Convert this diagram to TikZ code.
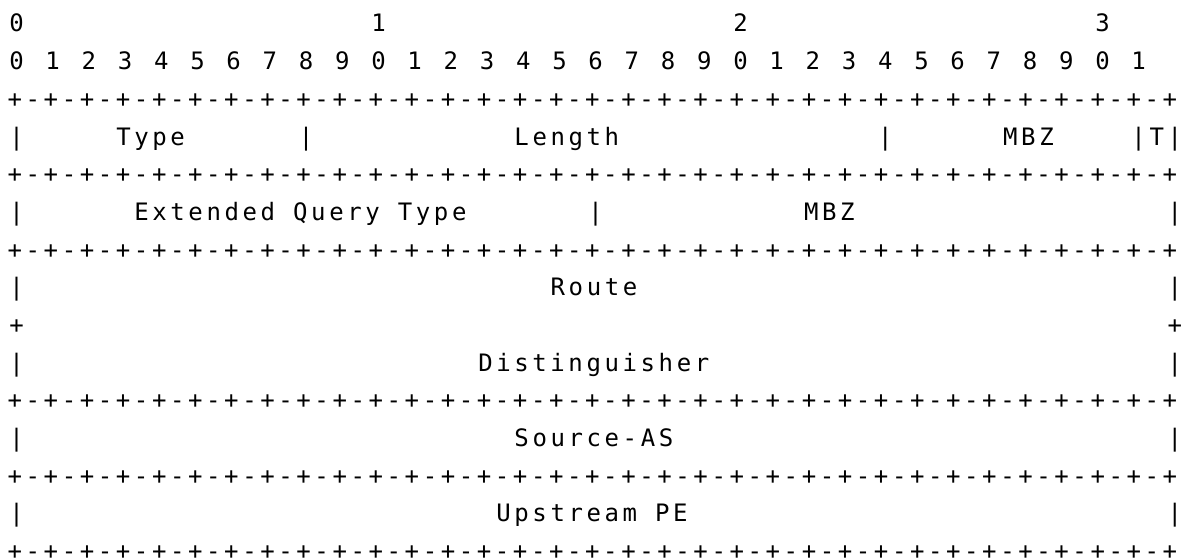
\documentclass[tikz,border=0pt]{standalone}
\usepackage{fontspec}
\newfontfamily\pktfont{DejaVu Sans Mono}[LetterSpace=15]
\newcommand{\pktrule}{+-+-+-+-+-+-+-+-+-+-+-+-+-+-+-+-+-+-+-+-+-+-+-+-+-+-+-+-+-+-+-+-+}
\begin{document}
\begin{tikzpicture}[x=18.1pt, y=-37.67pt,
  ch/.style={inner sep=0pt, anchor=base, font=\pktfont\fontsize{24}{28}\selectfont},
  lbl/.style={ch, anchor=base west}]
  \useasboundingbox (-16.5pt,32pt) rectangle (1171.5pt,-527pt);

  % bit numbers
  \foreach \i in {0,1,2,3}
    \node[ch] (dec\i) at (20*\i, 0) {\i};
  \foreach \i in {0,...,31} {
    \pgfmathtruncatemacro{\d}{mod(\i,10)}
    \node[ch] (bit\i) at (2*\i, 1) {\d};
  }

  % separators
  \foreach \l in {2,4,6,10,12,14}
    \node[lbl] (rule\l) at (-0.5, \l) {\pktrule};
  \node[ch] (plusL) at (0, 8) {+};
  \node[ch] (plusR) at (64, 8) {+};

  % field borders
  \foreach \l/\c in {3/0,3/16,3/48,3/62,3/64,5/0,5/32,5/64,7/0,7/64,
                     9/0,9/64,11/0,11/64,13/0,13/64}
    \node[ch] (bar\l-\c) at (\c, \l) {|};

  % field names
  \node[lbl] (type)   at (5.5, 3)  {Type};
  \node[lbl] (length) at (27.5, 3) {Length};
  \node[lbl] (mbzA)   at (54.5, 3) {MBZ};
  \node[ch]  (tflag)  at (63, 3)   {T};
  \node[lbl] (eqtype) at (6.5, 5)  {Extended Query Type};
  \node[lbl] (mbzB)   at (43.5, 5) {MBZ};
  \node[lbl] (route)  at (29.5, 7) {Route};
  \node[lbl] (dist)   at (25.5, 9) {Distinguisher};
  \node[lbl] (srcas)  at (27.5, 11) {Source-AS};
  \node[lbl] (upe)    at (26.5, 13) {Upstream PE};
\end{tikzpicture}
\end{document}
